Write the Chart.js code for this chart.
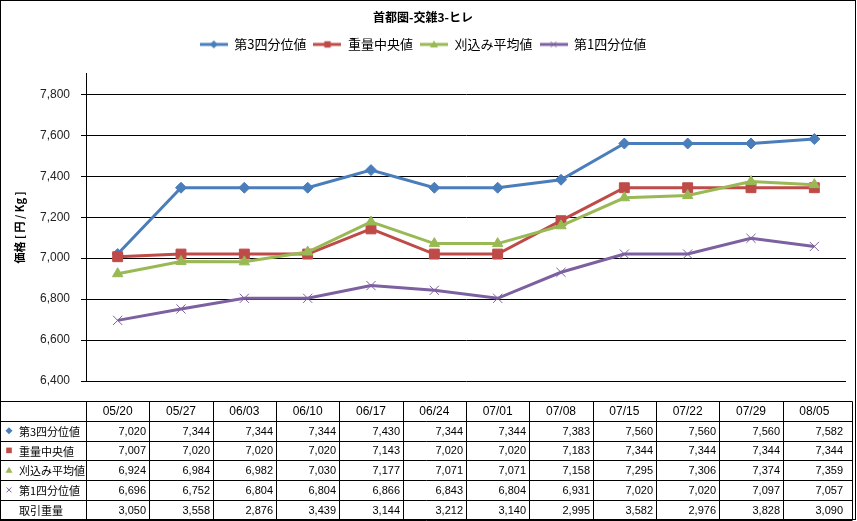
<!DOCTYPE html>
<html lang="ja">
<head>
<meta charset="utf-8">
<title>首都圏-交雑3-ヒレ</title>
<script src="https://cdn.jsdelivr.net/npm/chart.js@4.4.1/dist/chart.umd.min.js"></script>
<style>
  html, body { margin: 0; padding: 0; background: #fff; }
  #wrap { width: 857px; height: 521px; }
  canvas { display: block; }
</style>
</head>
<body>
<div id="wrap"><canvas id="chart" width="857" height="521"></canvas></div>
<script>
// ============================================
// 首都圏-交雑3-ヒレ 価格推移 + データテーブル
// ============================================

const weeks = ['05/20', '05/27', '06/03', '06/10', '06/17', '06/24', '07/01', '07/08', '07/15', '07/22', '07/29', '08/05'];

const q3Values     = [7020, 7344, 7344, 7344, 7430, 7344, 7344, 7383, 7560, 7560, 7560, 7582];
const medianValues = [7007, 7020, 7020, 7020, 7143, 7020, 7020, 7183, 7344, 7344, 7344, 7344];
const trimValues   = [6924, 6984, 6982, 7030, 7177, 7071, 7071, 7158, 7295, 7306, 7374, 7359];
const q1Values     = [6696, 6752, 6804, 6804, 6866, 6843, 6804, 6931, 7020, 7020, 7097, 7057];
const volumeValues = [3050, 3558, 2876, 3439, 3144, 3212, 3140, 2995, 3582, 2976, 3828, 3090];

const seriesNames = ['第3四分位値', '重量中央値', '刈込み平均値', '第1四分位値'];
const volumeName = '取引重量';

const yTickValues = [6400, 6600, 6800, 7000, 7200, 7400, 7600, 7800];
const yTickLabels = ['6,400', '6,600', '6,800', '7,000', '7,200', '7,400', '7,600', '7,800'];

const seriesValues = [q3Values, medianValues, trimValues, q1Values];
const seriesColors = ['#4A7EBB', '#BE4B48', '#98B954', '#7D60A0'];
const markerStyles = ['rectRot', 'rect', 'triangle', 'crossRot'];
const markerRadii  = [5.5, 7, 6, 6.5];

const CJK = '"Noto Sans CJK JP", "Noto Sans", sans-serif';
const NUM = '"Liberation Sans", Arial, sans-serif';

// 小さいマーカーを描く（凡例・テーブル用）
function drawMarker(g, style, cx, cy, s, color) {
  g.save();
  g.fillStyle = color;
  g.strokeStyle = color;
  g.lineWidth = 1;
  g.beginPath();
  if (style === 'rectRot') {
    g.moveTo(cx, cy - s); g.lineTo(cx + s, cy); g.lineTo(cx, cy + s); g.lineTo(cx - s, cy);
    g.closePath(); g.fill();
  } else if (style === 'rect') {
    g.rect(cx - s * 0.8, cy - s * 0.8, s * 1.6, s * 1.6); g.fill();
  } else if (style === 'triangle') {
    g.moveTo(cx, cy - s); g.lineTo(cx + s, cy + s * 0.75); g.lineTo(cx - s, cy + s * 0.75);
    g.closePath(); g.fill();
  } else {
    const d = s * 0.7;
    g.moveTo(cx - d, cy - d); g.lineTo(cx + d, cy + d);
    g.moveTo(cx + d, cy - d); g.lineTo(cx - d, cy + d);
    g.stroke();
  }
  g.restore();
}

// 凡例用の「線＋マーカー」アイコン
function legendIcon(i) {
  const c = document.createElement('canvas');
  c.width = 28; c.height = 12;
  const g = c.getContext('2d');
  g.strokeStyle = seriesColors[i];
  g.lineWidth = 3;
  g.beginPath(); g.moveTo(0, 6); g.lineTo(28, 6); g.stroke();
  drawMarker(g, markerStyles[i], 14, 6, 4, seriesColors[i]);
  return c;
}
const legendIcons = seriesNames.map((_, i) => legendIcon(i));

// グラフ下のデータテーブル
const dataTablePlugin = {
  id: 'dataTable',
  afterDraw(chart) {
    const ctx = chart.ctx;
    const xs = chart.scales.x;
    const half = (xs.getPixelForValue(1) - xs.getPixelForValue(0)) / 2;
    const top = chart.chartArea.bottom + 20;
    const bottom = 519.5;
    const rowH = (bottom - top) / 6;
    const tableRight = 852.5;

    const colEdges = [0.5];
    weeks.forEach((_, i) => colEdges.push(Math.round(xs.getPixelForValue(i) - half) + 0.5));
    colEdges.push(tableRight);

    ctx.save();
    ctx.strokeStyle = '#000';
    ctx.lineWidth = 1;
    ctx.beginPath();
    for (let r = 0; r <= 6; r++) {
      const y = Math.round(top + r * rowH) + 0.5;
      ctx.moveTo(0, y); ctx.lineTo(tableRight, y);
    }
    colEdges.forEach(x => { ctx.moveTo(x, Math.round(top) + 0.5); ctx.lineTo(x, bottom); });
    ctx.stroke();

    ctx.fillStyle = '#000';
    ctx.textBaseline = 'middle';

    // 見出し行
    ctx.font = '12px ' + NUM;
    ctx.textAlign = 'center';
    weeks.forEach((w, i) => ctx.fillText(w, xs.getPixelForValue(i), top + rowH / 2 + 1));

    const rows = seriesValues.concat([volumeValues]);
    const names = seriesNames.concat([volumeName]);
    rows.forEach((vals, r) => {
      const cy = top + rowH * (r + 1.5) + 1;
      if (r < 4) drawMarker(ctx, markerStyles[r], 9, cy - 1, 3.5, seriesColors[r]);
      ctx.font = '11px ' + CJK;
      ctx.textAlign = 'left';
      ctx.fillStyle = '#000';
      ctx.fillText(names[r], 19, cy);
      ctx.font = '11px ' + NUM;
      ctx.textAlign = 'right';
      vals.forEach((v, i) => {
        ctx.fillText(v.toLocaleString('en-US'), Math.round(xs.getPixelForValue(i) + half) - 3, cy);
      });
    });

    // 外枠
    ctx.strokeRect(0.5, 0.5, 855, 519);
    ctx.restore();
  }
};

new Chart(document.getElementById('chart'), {
  type: 'line',
  data: {
    labels: weeks,
    datasets: seriesNames.map((name, i) => ({
      label: name,
      data: seriesValues[i],
      borderColor: seriesColors[i],
      backgroundColor: seriesColors[i],
      borderWidth: 3,
      tension: 0,
      pointStyle: markerStyles[i],
      pointRadius: markerRadii[i],
      pointBorderWidth: 1,
      pointBackgroundColor: seriesColors[i],
      pointBorderColor: seriesColors[i],
      order: seriesNames.length - i
    }))
  },
  options: {
    responsive: false,
    devicePixelRatio: 1,
    animation: false,
    layout: { padding: { left: 0, right: 11, top: 0, bottom: 140 } },
    plugins: {
      tooltip: { enabled: false },
      title: {
        display: true,
        text: '首都圏-交雑3-ヒレ',
        color: '#000',
        font: { family: CJK, size: 12, weight: 'bold' },
        padding: { top: 10, bottom: 6.5 }
      },
      legend: {
        display: true,
        labels: {
          usePointStyle: true,
          pointStyleWidth: 28,
          padding: 7,
          color: '#000',
          font: { family: CJK, size: 13 },
          generateLabels(chart) {
            return chart.data.datasets.map((ds, i) => ({
              text: ds.label,
              pointStyle: legendIcons[i],
              fillStyle: ds.borderColor,
              strokeStyle: ds.borderColor,
              lineWidth: 0,
              fontColor: '#000',
              hidden: !chart.isDatasetVisible(i),
              datasetIndex: i
            }));
          }
        }
      }
    },
    scales: {
      x: {
        position: 'top',
        offset: true,
        grid: { display: false },
        border: { display: false },
        ticks: { display: false },
        afterFit(scale) { scale.height = 13; }
      },
      y: {
        min: 6400,
        max: 7900,
        afterFit(scale) { scale.width = 86; },
        afterBuildTicks(scale) { scale.ticks = yTickValues.map(v => ({ value: v })); },
        grid: { color: '#000', lineWidth: 1, drawTicks: true, tickLength: 5 },
        border: { display: true, color: '#000', width: 1 },
        ticks: {
          padding: 11,
          color: '#222',
          font: { family: NUM, size: 12 },
          callback(value) {
            const k = yTickValues.indexOf(value);
            return k >= 0 ? yTickLabels[k] : '';
          }
        },
        title: {
          display: true,
          text: '価格 [ 円 / Kg ]',
          color: '#000',
          font: { family: CJK, size: 11, weight: 'bold' },
          padding: { top: 13, bottom: 0 }
        }
      }
    }
  },
  plugins: [dataTablePlugin]
});
</script>
</body>
</html>
